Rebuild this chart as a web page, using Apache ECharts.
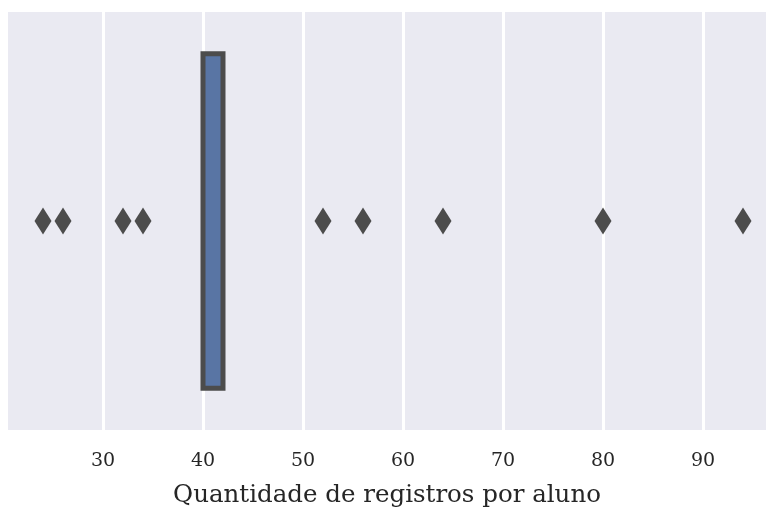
<!DOCTYPE html>
<html>
<head>
<meta charset="utf-8">
<script src="https://cdn.jsdelivr.net/npm/echarts@6/dist/echarts.min.js"></script>
<style>
html,body{margin:0;padding:0;background:#fff;}
#c{width:766px;height:508px;}
</style>
</head>
<body>
<div id="c"></div>
<script>
// Data
var categories = [''];
var boxStats = [40, 40, 42, 42, 42]; // [low whisker, Q1, median, Q3, high whisker]
var outliers = [24, 26, 32, 34, 52, 56, 64, 80, 94];
var tickValues = [30, 40, 50, 60, 70, 80, 90];
var xLabel = 'Quantidade de registros por aluno';

var chart = echarts.init(document.getElementById('c'));
chart.setOption({
  animation: false,
  backgroundColor: '#ffffff',
  grid: {
    left: 8, right: 0, top: 12, bottom: 78,
    outerBoundsMode: 'none',
    containLabel: false,
    show: true, backgroundColor: '#EAEAF2', borderWidth: 0
  },
  xAxis: {
    type: 'value',
    min: 20.5, max: 96.3,
    axisLine: {show: false},
    axisTick: {show: false, customValues: tickValues},
    axisLabel: {
      customValues: tickValues,
      margin: 22,
      fontFamily: 'DejaVu Serif',
      fontSize: 19,
      color: '#262626'
    },
    splitLine: {show: true, lineStyle: {color: '#ffffff', width: 3}},
    name: xLabel,
    nameLocation: 'middle',
    nameGap: 53,
    nameTextStyle: {fontFamily: 'DejaVu Serif', fontSize: 24.5, color: '#262626'}
  },
  yAxis: {
    type: 'category',
    data: categories,
    axisLine: {show: false},
    axisTick: {show: false},
    axisLabel: {show: false},
    splitLine: {show: false}
  },
  series: [
    {
      type: 'boxplot',
      data: [boxStats],
      boxWidth: ['80%', '80%'],
      itemStyle: {color: '#5975A4', borderColor: '#4C4C4C', borderWidth: 5},
      z: 3
    },
    {
      type: 'scatter',
      data: outliers.map(function (v) { return [v, 0]; }),
      symbol: 'diamond',
      symbolSize: [17, 27],
      itemStyle: {color: '#4C4C4C', opacity: 1},
      z: 4
    }
  ]
});
</script>
</body>
</html>
